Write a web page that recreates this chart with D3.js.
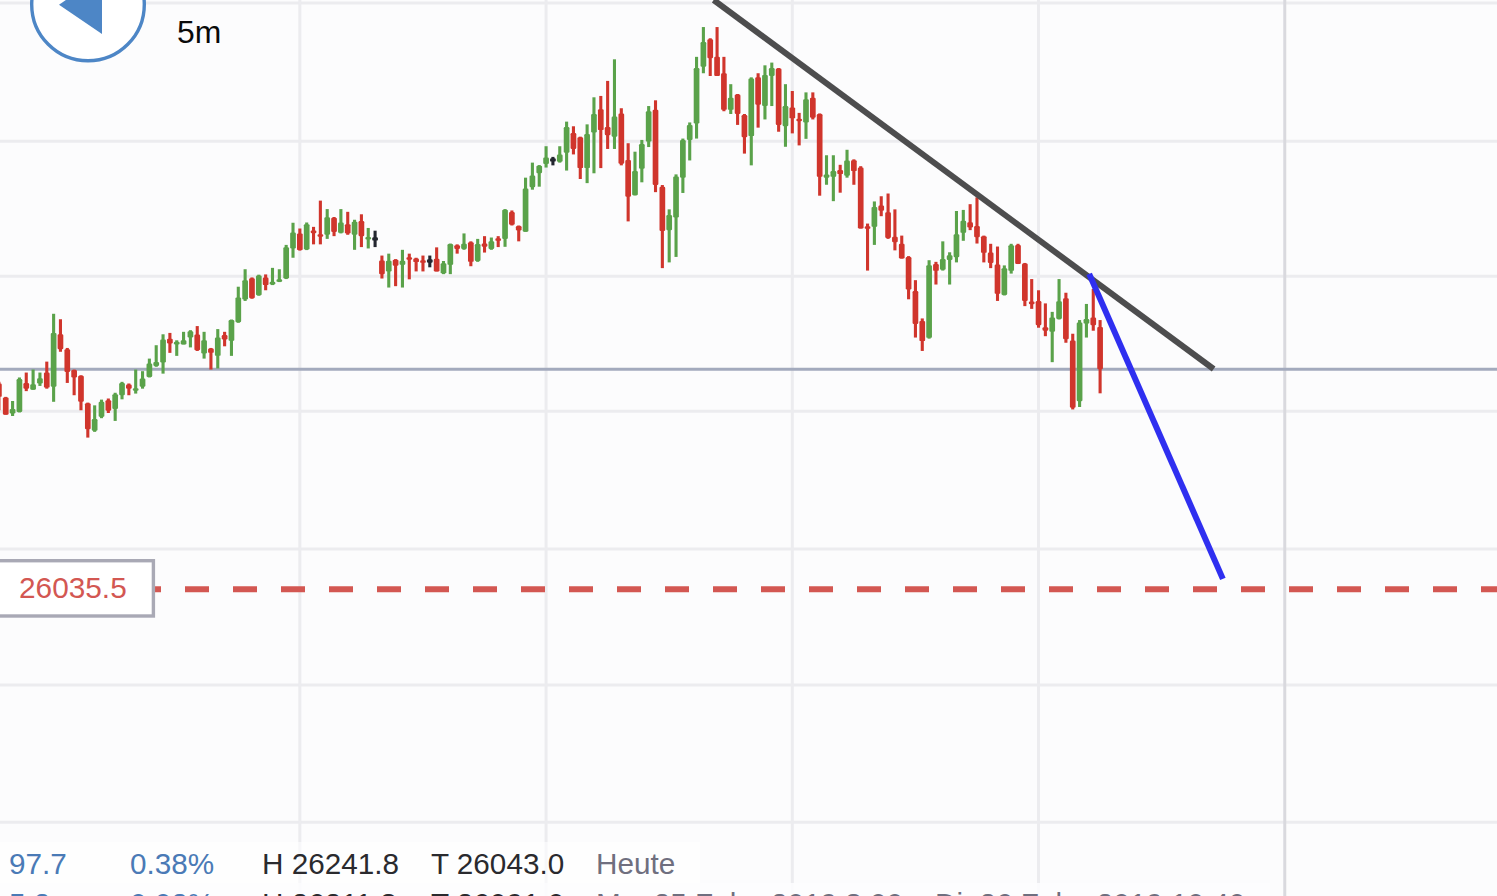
<!DOCTYPE html>
<html><head><meta charset="utf-8">
<script src="https://cdn.jsdelivr.net/npm/d3@7/dist/d3.min.js"></script>
<style>
html,body{margin:0;padding:0;background:#fcfcfd;overflow:hidden}
svg{display:block}
text{font-family:"Liberation Sans",Arial,sans-serif}
</style></head><body>
<svg id="chart" width="1497" height="896"></svg>
<script>
// Prices are stored as offsets from this base
const priceBase = 26000;
const highs = [111.4,105.9,104.4,113.0,114.8,115.9,114.8,118.8,136.3,134.3,
123.8,115.9,113.8,103.8,102.8,104.9,105.3,107.4,111.4,110.8,
115.9,115.3,119.9,124.8,128.8,129.3,126.6,129.7,130.3,131.8,
129.7,123.8,130.7,129.7,134.2,146.2,152.6,149.6,150.6,150.7,
153.1,152.6,161.5,169.6,167.5,169.7,168.1,177.7,174.6,171.7,
174.6,173.6,170.7,172.7,167.7,166.7,157.6,158.3,156.3,159.7,
158.3,156.8,157.6,157.6,160.6,155.6,162.0,161.7,165.7,162.8,
163.7,164.7,164.2,164.7,174.6,174.1,168.6,186.1,191.6,190.7,
197.6,193.7,197.6,206.6,204.9,201.1,205.6,215.5,216.0,221.5,
229.4,211.5,198.7,195.6,199.9,212.3,214.4,183.4,174.5,187.3,
200.4,206.3,230.3,241.2,237.1,241.2,230.3,220.3,216.7,209.4,
222.8,224.3,227.2,228.2,226.2,220.3,217.8,209.8,217.3,217.3,
209.6,194.3,194.3,190.8,196.3,192.8,190.3,169.3,177.4,179.3,
180.3,174.5,164.9,157.4,148.6,134.6,155.9,155.3,162.8,158.8,
173.9,174.3,176.4,178.9,164.9,161.9,160.9,154.0,161.9,161.9,
154.9,149.0,144.9,140.1,137.0,149.0,144.0,129.0,134.0,139.9,
145.4,134.0];
const lows = [101.0,99.4,98.9,100.2,108.0,108.5,109.9,108.9,104.1,122.4,
111.0,106.5,101.0,91.0,93.1,98.1,100.0,97.1,105.0,106.5,
107.1,108.9,113.0,116.9,114.4,122.0,120.9,125.1,124.0,122.7,
119.9,115.9,116.3,124.4,120.9,133.0,141.0,141.8,142.9,144.9,
146.8,147.9,149.0,156.8,159.4,159.6,161.7,161.7,163.7,164.7,
165.7,165.2,159.7,160.7,160.2,160.7,149.2,145.9,146.4,145.9,
148.9,151.8,151.8,153.3,151.8,150.8,150.8,158.3,159.7,153.7,
155.3,158.7,159.7,160.7,160.8,168.6,162.8,166.3,181.7,182.8,
189.8,190.6,191.6,188.7,194.6,185.6,184.1,187.7,189.6,196.6,
196.6,190.6,170.1,179.6,184.4,197.3,180.8,153.0,155.1,157.1,
180.5,192.4,200.4,224.3,223.3,223.3,210.4,209.4,205.4,194.9,
190.6,204.4,207.4,212.3,202.9,197.4,202.3,197.9,200.3,207.4,
179.5,183.5,177.5,180.6,186.1,183.5,167.5,152.1,161.5,172.0,
163.7,159.5,156.5,141.6,127.6,122.7,127.2,147.0,152.1,147.0,
155.1,163.0,166.9,162.0,155.1,153.0,141.0,143.0,151.0,154.5,
139.1,138.1,131.2,128.1,118.6,134.2,125.7,101.3,102.2,127.6,
130.1,107.2];
const opens = [110.8,105.7,99.8,100.4,111.0,108.5,110.8,114.8,109.6,128.8,
123.3,115.7,113.6,103.6,93.5,98.6,104.7,101.5,106.5,110.4,
108.3,109.6,113.2,117.2,118.5,127.2,125.2,125.1,127.6,128.7,
121.8,123.6,120.9,128.5,126.4,133.2,141.5,149.3,143.1,149.6,
147.0,148.1,149.2,160.2,165.7,159.8,166.8,165.2,165.2,171.4,
165.9,169.1,165.2,170.2,163.7,163.7,155.8,151.8,156.1,154.2,
156.8,156.5,155.8,155.6,156.4,151.1,154.2,161.4,160.0,162.5,
155.6,162.0,160.0,163.7,163.7,173.5,168.4,166.3,182.6,187.7,
191.1,192.6,191.9,195.2,202.4,200.9,189.6,202.6,211.1,204.6,
201.1,209.6,192.6,179.7,189.4,199.3,210.9,182.8,166.9,171.5,
186.1,199.9,205.9,226.7,236.7,230.3,224.3,210.9,216.5,209.0,
201.3,222.8,212.3,223.3,226.0,204.9,211.8,207.4,206.3,215.3,
209.4,186.1,186.4,188.9,186.8,192.5,189.8,168.1,168.1,175.9,
173.4,164.5,161.9,157.1,144.6,133.7,127.5,154.5,152.4,156.0,
157.0,165.9,169.8,168.4,164.7,158.7,154.3,143.2,152.0,161.5,
154.7,140.5,141.0,131.4,129.7,134.4,142.0,126.5,104.3,132.7,
134.9,131.5];
const closes = [105.9,99.4,101.5,112.4,108.9,110.5,112.7,109.3,129.3,123.3,
115.0,113.0,104.1,94.1,97.8,104.1,100.8,106.9,111.0,108.9,
108.9,112.6,118.1,118.7,126.9,125.4,125.9,126.6,129.9,123.0,
126.6,122.0,127.6,126.9,134.0,142.3,148.6,142.0,150.3,146.8,
148.0,148.8,160.6,166.0,159.6,169.1,165.8,164.7,171.6,166.2,
169.7,165.7,170.0,164.7,164.2,163.7,150.8,155.7,153.9,155.7,
156.3,155.2,155.0,155.6,151.8,154.8,161.8,160.0,161.9,155.3,
161.8,160.8,162.8,163.2,174.4,168.9,166.8,182.1,186.9,190.5,
193.5,192.6,194.6,204.6,196.6,189.6,202.1,209.4,203.5,201.6,
208.5,191.2,179.1,188.5,198.4,210.4,183.4,166.6,172.4,186.5,
199.9,205.4,226.2,235.7,229.8,223.3,210.9,215.3,209.4,200.9,
222.4,212.8,223.7,226.2,205.4,212.3,207.8,207.0,214.8,208.0,
186.4,187.3,188.5,187.4,192.4,188.5,167.5,167.6,175.4,174.0,
164.0,162.5,156.5,145.2,132.6,126.3,154.1,152.0,156.3,157.7,
165.4,170.3,167.9,164.3,158.6,154.9,143.6,153.0,161.4,154.5,
141.0,140.1,132.1,130.1,134.9,140.9,127.0,101.9,133.1,134.4,
132.1,116.0];

const gridPrices = [26250,26199.4,26150,26100.6,26050.2,26000.5,25950.3];
const gridIndexes = [44,80,116,152];
const sessionIndex = 188;
const lastPrice = 26116;
const targetPrice = 26035.5;
const trendLine = [[104.5,26251.1],[177.6,26116.1]];
const projectionLine = [[159.4,26150.9],[178.95,26039.3]];
const intervalLabel = "5m";
const targetLabel = "26035.5";
const rowOne = ["97.7","0.38%","H 26241.8","T 26043.0","Heute"];
const rowTwo = ["5.2","0.02%","H 26211.8","T 26091.0","Mo. 25 Feb., 2019 8:00","Di. 26 Feb., 2019 10:40"];

const W = 1497, H = 896;
const x = d3.scaleLinear().domain([0,161]).range([-1.1,1100.1]);
const y = d3.scaleLinear().domain([25950,26250]).range([823,3]);
const svg = d3.select("#chart");
const gridColor = "#ececef";

svg.append("rect").attr("width",W).attr("height",H).attr("fill","#fcfcfd");

const grid = svg.append("g");
grid.selectAll("line.h").data(gridPrices).join("line").attr("class","h")
  .attr("x1",0).attr("x2",W).attr("y1",d=>y(d)).attr("y2",d=>y(d))
  .attr("stroke",gridColor).attr("stroke-width",3);
grid.selectAll("line.v").data(gridIndexes).join("line").attr("class","v")
  .attr("x1",d=>x(d)).attr("x2",d=>x(d)).attr("y1",0).attr("y2",H)
  .attr("stroke",gridColor).attr("stroke-width",3);
grid.append("line").attr("x1",x(sessionIndex)).attr("x2",x(sessionIndex)).attr("y1",0).attr("y2",H)
  .attr("stroke","#d9d9de").attr("stroke-width",3);

// current price line
svg.append("line").attr("x1",0).attr("x2",W).attr("y1",y(lastPrice)).attr("y2",y(lastPrice))
  .attr("stroke","#a3aabd").attr("stroke-width",2.8);

const candles = d3.range(highs.length).map(i=>({i,
  h:priceBase+highs[i], l:priceBase+lows[i], o:priceBase+opens[i], c:priceBase+closes[i]}));
const colorOf = d => d.c>d.o ? "#5aa24a" : d.c<d.o ? "#d0352c" : "#23262f";

const cg = svg.append("g").style("filter","blur(0.3px)");
cg.selectAll("line").data(candles).join("line")
  .attr("x1",d=>x(d.i)).attr("x2",d=>x(d.i)).attr("y1",d=>y(d.h)).attr("y2",d=>y(d.l))
  .attr("stroke",colorOf).attr("stroke-width",3.1);
cg.selectAll("rect").data(candles).join("rect")
  .attr("x",d=>x(d.i)-2.85).attr("width",5.7).attr("rx",1.2)
  .attr("y",d=>{const t=y(Math.max(d.o,d.c)),b=y(Math.min(d.o,d.c));return b-t<2.6?(t+b)/2-1.3-(d.o===d.c?0.4:0):t;})
  .attr("height",d=>Math.max(y(Math.min(d.o,d.c))-y(Math.max(d.o,d.c)),d.o===d.c?3.4:2.6))
  .attr("fill",colorOf);

// target price dashes
svg.append("line").attr("x1",137).attr("x2",W).attr("y1",y(targetPrice)).attr("y2",y(targetPrice))
  .attr("stroke","#d35752").attr("stroke-width",6).attr("stroke-dasharray","24 24");

const lineGen = d3.line().x(d=>x(d[0])).y(d=>y(d[1]));
svg.append("path").attr("d",lineGen(trendLine)).attr("fill","none")
  .attr("stroke","#4d4d4e").attr("stroke-width",6);
svg.append("path").attr("d",lineGen(projectionLine)).attr("fill","none")
  .attr("stroke","#2f2ff0").attr("stroke-width",6);

// target label box
svg.append("rect").attr("x",-10).attr("y",560.7).attr("width",163.4).attr("height",55.3)
  .attr("fill","#fff").attr("stroke","#a9a9b5").attr("stroke-width",3.4);
svg.append("text").attr("x",19).attr("y",598).attr("font-size",29.8).attr("fill","#d35752").text(targetLabel);

// back button
svg.append("circle").attr("cx",88).attr("cy",4.5).attr("r",56.3)
  .attr("fill","#fff").attr("stroke","#4d86c6").attr("stroke-width",3.4);
svg.append("path").attr("d",d3.line()([[59,4.7],[102,34],[102,-24.6]])+"Z").attr("fill","#4d86c6");
svg.append("text").attr("x",177).attr("y",42.7).attr("font-size",31.9).attr("fill","#0a0a0a").text(intervalLabel);

// table rows over the chart
svg.append("rect").attr("x",0).attr("y",842).attr("width",700).attr("height",41).attr("fill","#fff").attr("opacity",0.6);
svg.append("rect").attr("x",0).attr("y",883).attr("width",1270).attr("height",13).attr("fill","#fdfdfe").attr("opacity",0.9);

const rowX = [9,130,262,431,596], rowColors = ["#4a7ab6","#4a7ab6","#2a2a2e","#2a2a2e","#6f6f7f"];
const rows = svg.append("g").attr("font-size",29.7);
rowOne.forEach((t,i)=>rows.append("text").attr("x",rowX[i]).attr("y",874).attr("fill",rowColors[i]).text(t));
const rowX2 = [9,130,262,431,596,935], rowColors2 = [...rowColors,"#6f6f7f"];
rowTwo.forEach((t,i)=>rows.append("text").attr("x",rowX2[i]).attr("y",913.5).attr("fill",rowColors2[i]).text(t));
</script>
</body></html>
